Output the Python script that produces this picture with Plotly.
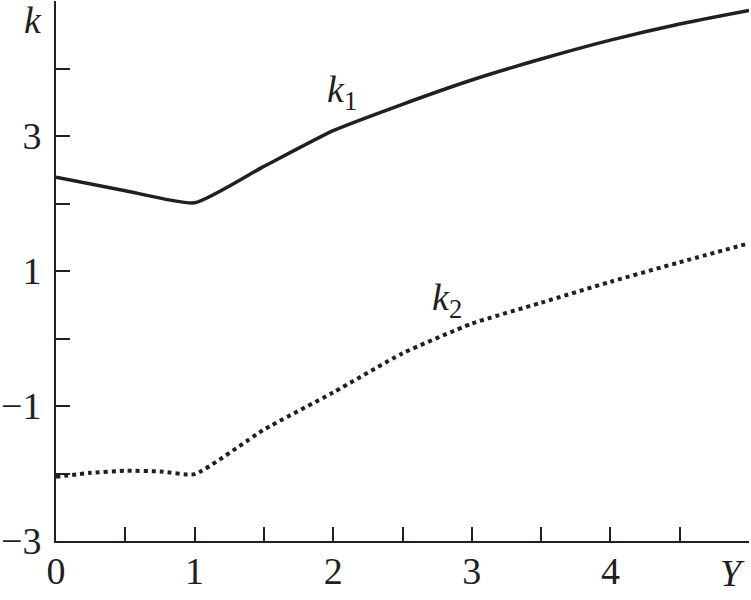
import plotly.graph_objects as go

# Data
k1_x = [0, 0.5, 1, 1.5, 2, 2.5, 3, 3.5, 4, 4.5, 5]
k1_y = [2.39, 2.19, 2.01, 2.55, 3.08, 3.47, 3.83, 4.14, 4.42, 4.66, 4.86]

k2_x = [0, 0.25, 0.5, 0.75, 1, 1.5, 2, 2.5, 3, 3.5, 4, 4.5, 5]
k2_y = [-2.05, -1.99, -1.96, -1.97, -2.01, -1.35, -0.8, -0.22, 0.22, 0.53, 0.84, 1.13, 1.41]

x_tickvals = [0, 0.5, 1, 1.5, 2, 2.5, 3, 3.5, 4, 4.5, 5]
x_ticktext = ["0", "", "1", "", "2", "", "3", "", "4", "", ""]
y_tickvals = [-3, -2, -1, 0, 1, 2, 3, 4, 5]
y_ticktext = ["\u22123", "", "\u22121", "", "1", "", "3", "", ""]

INK = "#231f20"
FONT = "Liberation Serif, Times New Roman, Times, serif"
FS = 38

fig = go.Figure()
fig.add_trace(go.Scatter(x=k1_x, y=k1_y, mode="lines",
                         line=dict(color=INK, width=3.5, shape="spline", smoothing=0.5),
                         showlegend=False))
fig.add_trace(go.Scatter(x=k2_x, y=k2_y, mode="lines",
                         line=dict(color=INK, width=4, dash="4px,4px", shape="spline", smoothing=0.5),
                         showlegend=False))

axis_common = dict(showline=True, linecolor=INK, linewidth=2, ticks="inside",
                   ticklen=14, tickwidth=2, tickcolor=INK, showgrid=False,
                   zeroline=False, automargin=False,
                   tickfont=dict(family=FONT, size=FS, color=INK))

fig.update_xaxes(range=[0, 5], tickmode="array", tickvals=x_tickvals,
                 ticktext=x_ticktext, ticklabelstandoff=-5, **axis_common)
fig.update_yaxes(range=[-3, 5], tickmode="array", tickvals=y_tickvals,
                 ticktext=y_ticktext, ticklabelstandoff=5, **axis_common)

ann_font = dict(family=FONT, size=FS, color=INK)
fig.add_annotation(text="<i>k</i><sub>1</sub>", x=2.06, y=3.65, xref="x", yref="y",
                   xanchor="center", yanchor="middle", showarrow=False, font=ann_font)
fig.add_annotation(text="<i>k</i><sub>2</sub>", x=2.82, y=0.57, xref="x", yref="y",
                   xanchor="center", yanchor="middle", showarrow=False, font=ann_font)
fig.add_annotation(text="<i>k</i>", x=-0.033, y=4.72, xref="paper", yref="y",
                   xanchor="center", yanchor="middle", showarrow=False, font=ann_font)
fig.add_annotation(text="<i>Y</i>", x=4.88, y=-0.059, xref="x", yref="paper",
                   xanchor="center", yanchor="middle", showarrow=False, font=ann_font)

fig.update_layout(width=751, height=600,
                  margin=dict(l=56, r=2, t=1, b=59, autoexpand=False),
                  plot_bgcolor="white", paper_bgcolor="white")

fig.write_html("out.html", config={"displayModeBar": False},
               post_script="document.body.style.margin='0';document.body.style.overflow='hidden';")
